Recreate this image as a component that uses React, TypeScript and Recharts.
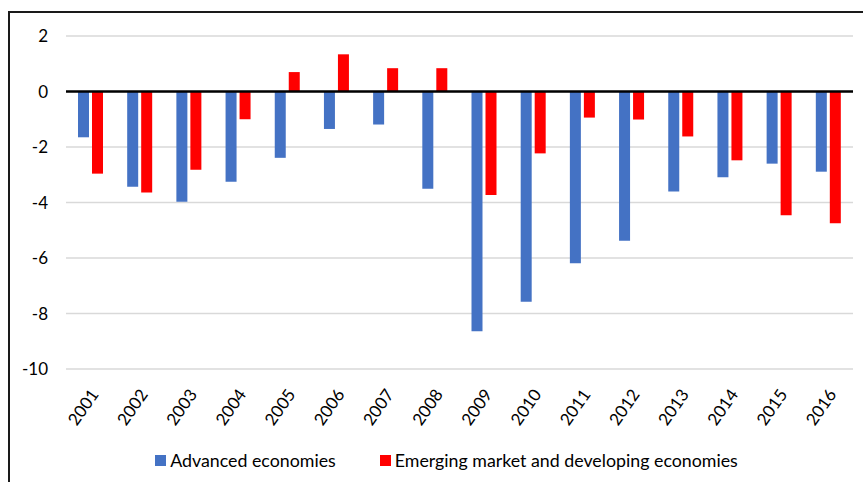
import React from "react";
import {
  BarChart,
  Bar,
  XAxis,
  YAxis,
  CartesianGrid,
  ReferenceLine,
  Legend,
} from "recharts";

const YEARS = [
  "2001", "2002", "2003", "2004", "2005", "2006", "2007", "2008",
  "2009", "2010", "2011", "2012", "2013", "2014", "2015", "2016",
];
const ADVANCED = [
  -1.65, -3.43, -3.97, -3.25, -2.39, -1.35, -1.19, -3.5,
  -8.64, -7.58, -6.19, -5.38, -3.6, -3.09, -2.6, -2.89,
];
const EMERGING = [
  -2.96, -3.64, -2.82, -1.0, 0.7, 1.34, 0.84, 0.84,
  -3.73, -2.23, -0.94, -1.01, -1.62, -2.48, -4.46, -4.75,
];
const Y_TICKS = [-10, -8, -6, -4, -2, 0, 2];

const FONT = "Lato, 'Open Sans', sans-serif";

const data = YEARS.map((year, i) => ({
  year,
  advanced: ADVANCED[i],
  emerging: EMERGING[i],
}));

function YearTick(props: any) {
  const { x, y, payload } = props;
  return (
    <g transform={`translate(${x + 4},${y + 10})`}>
      <text
        transform="rotate(-55)"
        textAnchor="end"
        dy="0.35em"
        fontSize={17}
        fontFamily={FONT}
        fill="#000"
      >
        {payload.value}
      </text>
    </g>
  );
}

function LegendBox(props: any) {
  const { payload } = props;
  return (
    <div
      style={{
        display: "flex",
        justifyContent: "center",
        gap: 44,
        fontFamily: FONT,
        fontSize: 17.8,
        color: "#000",
        marginLeft: 40,
      }}
    >
      {(payload || []).map((p: any) => (
        <div key={p.value} style={{ display: "flex", alignItems: "center" }}>
          <span
            style={{
              display: "inline-block",
              width: 11,
              height: 11,
              background: p.color,
              marginRight: 4,
            }}
          />
          <span>{p.value}</span>
        </div>
      ))}
    </div>
  );
}

export default function App() {
  return (
    <div
      style={{
        position: "fixed",
        left: 0,
        top: 0,
        width: 863,
        height: 482,
        background: "#fff",
        overflow: "hidden",
      }}
    >
      <div
        style={{
          position: "absolute",
          left: 8,
          top: 11,
          width: 900,
          height: 500,
          border: "2px solid #1a1a1a",
          boxSizing: "border-box",
        }}
      />
      <div style={{ position: "absolute", left: 0, top: 0 }}>
        <BarChart
          width={863}
          height={482}
          data={data}
          margin={{ top: 36, right: 10, left: 0, bottom: 10 }}
          barSize={11}
          barGap={3}
        >
          <CartesianGrid vertical={false} stroke="#d9d9d9" strokeWidth={1.5} />
          <XAxis
            dataKey="year"
            axisLine={false}
            tickLine={false}
            interval={0}
            height={81}
            tick={<YearTick />}
            tickMargin={6}
          />
          <YAxis
            domain={[-10, 2]}
            ticks={Y_TICKS}
            axisLine={false}
            tickLine={false}
            width={66}
            tickMargin={12}
            tick={{ fontSize: 17, fontFamily: FONT, fill: "#000" }}
          />
          <Legend
            verticalAlign="bottom"
            content={<LegendBox />}
            wrapperStyle={{ bottom: 11 }}
          />
          <Bar
            dataKey="advanced"
            name="Advanced economies"
            fill="#4472c4"
            isAnimationActive={false}
          />
          <Bar
            dataKey="emerging"
            name="Emerging market and developing economies"
            fill="#ff0000"
            isAnimationActive={false}
          />
          <ReferenceLine y={0} stroke="#000" strokeWidth={2.5} />
        </BarChart>
      </div>
    </div>
  );
}
